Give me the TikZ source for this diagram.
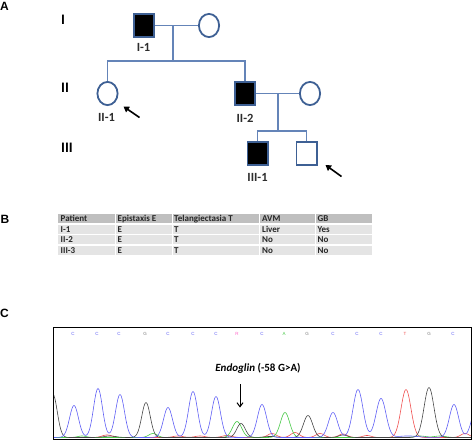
\documentclass[tikz,border=0pt]{standalone}
\usepackage{fontspec}
\setmainfont{Carlito}
\newfontfamily\arialf{Liberation Sans}
\usetikzlibrary{shapes.geometric,arrows.meta}
\definecolor{pedline}{RGB}{100,132,184}
\definecolor{pededge}{RGB}{62,96,148}
\definecolor{hdrgray}{RGB}{191,191,191}
\definecolor{rowgray}{RGB}{228,228,228}
\definecolor{tblue}{RGB}{95,95,245}
\definecolor{tblack}{RGB}{70,70,70}
\definecolor{tgreen}{RGB}{70,200,70}
\definecolor{tred}{RGB}{240,80,80}
\definecolor{tpink}{RGB}{255,100,200}
\definecolor{tgray}{RGB}{120,120,120}
\definecolor{labgray}{RGB}{45,45,45}
\begin{document}
\begin{tikzpicture}[x=1pt,y=-1pt,
  declare function={g(\gx,\gc,\gh,\gs)=\gh*exp(-min(((\gx-\gc)/\gs)*((\gx-\gc)/\gs),9));},
  male/.style={rectangle,draw=pededge,line width=1.8pt,minimum width=20.2pt,minimum height=23.2pt,inner sep=0pt},
  female/.style={ellipse,draw=pededge,line width=1.8pt,minimum width=20.2pt,minimum height=23.2pt,inner sep=0pt},
  affected/.style={fill=black},
  pedconn/.style={draw=pedline,line width=1.2pt},
  pedlabel/.style={font=\fontsize{12.5}{13}\selectfont\bfseries,text=labgray,inner sep=0pt},
  genlabel/.style={font=\fontsize{14.5}{15}\selectfont\bfseries,text=black,inner sep=0pt},
  panel/.style={font=\arialf\bfseries\fontsize{12}{12}\selectfont,inner sep=0pt,anchor=west},
  probandarrow/.style={-{Triangle[length=5.5pt,width=6.5pt]},line width=1.6pt,black},
  celltext/.style={font=\fontsize{9}{9}\selectfont\bfseries,text=black!85,inner sep=0pt,anchor=west},
  baselet/.style={font=\arialf\fontsize{4.5}{4.5}\selectfont,inner sep=0pt},
  trace/.style={line width=0.6pt},
]
\useasboundingbox (0,0) rectangle (473,442);

% ---------- Panel letters ----------
\node[panel] (pA) at (0,6.5) {A};
\node[panel] (pB) at (0.5,219) {B};
\node[panel] (pC) at (0,313) {C};

% ---------- Generation labels ----------
\node[genlabel] (gI) at (63,20) {I};
\node[genlabel] (gII) at (65,87.5) {II};
\node[genlabel] (gIII) at (67,147.5) {III};

% ---------- Pedigree ----------
\node[male,affected] (I1) at (144,25.5) {};
\node[female] (I2) at (209,25.5) {};
\node[female] (II1) at (107.5,93.5) {};
\node[male,affected] (II2) at (245,93.5) {};
\node[female] (II3) at (310,93.5) {};
\node[male,affected] (III1) at (257.5,153.5) {};
\node[male] (III2) at (306.5,153.5) {};

\coordinate (m1) at (173,25.5);
\coordinate (s1) at (173,61);
\coordinate (s1l) at (107.5,61);
\coordinate (s1r) at (245,61);
\coordinate (m2) at (278,93.5);
\coordinate (s2) at (278,131);
\coordinate (s2l) at (257.5,131);
\coordinate (s2r) at (306.5,131);

\draw[pedconn] (I1.east) -- (I2.west);
\draw[pedconn] (m1) -- (s1);
\draw[pedconn] (II1.north) -- (s1l) -- (s1r) -- (II2.north);
\draw[pedconn] (II2.east) -- (II3.west);
\draw[pedconn] (m2) -- (s2);
\draw[pedconn] (III1.north) -- (s2l) -- (s2r) -- (III2.north);

\node[pedlabel] (lI1) at (143.5,47) {I-1};
\node[pedlabel] (lII1) at (106.5,117) {II-1};
\node[pedlabel] (lII2) at (245,118) {II-2};
\node[pedlabel] (lIII1) at (257.5,177) {III-1};

\coordinate (a1t) at (139.5,117.5);
\coordinate (a1h) at (123.5,106.5);
\coordinate (a2t) at (341.5,176.5);
\coordinate (a2h) at (325.5,165);
\draw[probandarrow] (a1t) -- (a1h);
\draw[probandarrow] (a2t) -- (a2h);

% ---------- Table ----------
\foreach \ya/\yb [count=\r] in {213.5/223.5, 224/234, 234.5/244.5, 245/255}{
  \foreach \xa/\xb in {57/115, 115/172, 172/259, 259/315, 315/372}{
    \ifnum\r=1
      \fill[hdrgray] (\xa+0.5,\ya+0.5) rectangle (\xb-0.5,\yb-0.5);
    \else
      \fill[rowgray] (\xa+0.5,\ya+0.5) rectangle (\xb-0.5,\yb-0.5);
    \fi
  }
}
\foreach \txt/\xx [count=\i] in {Patient/60.5, Epistaxis E/117.5, Telangiectasia T/174, AVM/262, GB/317.5}
  \node[celltext] (h\i) at (\xx,218.7) {\txt};
\foreach \txt/\xx [count=\i] in {I-1/60.5, E/117.5, T/174, Liver/262, Yes/317.5}
  \node[celltext] (ra\i) at (\xx,229.2) {\txt};
\foreach \txt/\xx [count=\i] in {II-2/60.5, E/117.5, T/174, No/262, No/317.5}
  \node[celltext] (rb\i) at (\xx,239.7) {\txt};
\foreach \txt/\xx [count=\i] in {III-3/60.5, E/117.5, T/174, No/262, No/317.5}
  \node[celltext] (rc\i) at (\xx,250.2) {\txt};

% ---------- Chromatogram ----------
\begin{scope}
\clip (53.5,327.5) rectangle (471,439);
\draw[trace,tred] plot[domain=53:472,samples=420] (\x,{437.5-(g(\x,406,48,7)+g(\x,107,2.5,7)+g(\x,178,1.5,7)+g(\x,200,1.5,7)+g(\x,227,2,7)+g(\x,272,4,6)+g(\x,295,5,6)+g(\x,320,4,6)+g(\x,343,3.5,6)+g(\x,367,2,6)+g(\x,465,4,6))});
\draw[trace,tgreen] plot[domain=53:472,samples=420] (\x,{437.5-(g(\x,237,16,6.5)+g(\x,285,25,6.5)+g(\x,153,4,6)+g(\x,82,1.5,6)+g(\x,420,1.5,8)+g(\x,440,1.5,8))});
\draw[trace,tblack] plot[domain=53:472,samples=420] (\x,{437.5-(g(\x,53,43,6)+g(\x,146,35,6)+g(\x,241,14,6)+g(\x,308,22,6.5)+g(\x,429,50,7)+g(\x,343,2.5,6)+g(\x,110,1.5,8)+g(\x,270,1,8))});
\draw[trace,tblue] plot[domain=53:472,samples=420] (\x,{437.5-(g(\x,74,32,6.3)+g(\x,98,49,6.3)+g(\x,120,43,6.3)+g(\x,168,30,6.3)+g(\x,193,46,6.3)+g(\x,216,41,6.3)+g(\x,262,33,6.5)+g(\x,333,25,6.5)+g(\x,358,48,7)+g(\x,381,39,7)+g(\x,454,33,6.5)+g(\x,476,28,6.5)+g(\x,408,1.5,14))});
\end{scope}
\draw[line width=0.9pt] (53.5,327.5) rectangle (471.3,439.3);

\foreach \bx/\bl/\bc [count=\i] in {73/C/tblue, 97/C/tblue, 119/C/tblue, 145/G/tgray, 168/C/tblue, 193/C/tblue, 216/C/tblue, 237/R/tpink, 262/C/tblue, 284/A/tgreen, 307/G/tgray, 333/C/tblue, 357/C/tblue, 381/C/tblue, 405/T/tred, 429/G/tgray, 453/C/tblue}
  \node[baselet,text=\bc] (b\i) at (\bx,333.5) {\bl};

\node[font=\fontsize{11}{11}\selectfont\bfseries,inner sep=0pt] (mut) at (258,368) {\textit{Endoglin} (-58 G>A)};
\coordinate (mt) at (240,384);
\coordinate (mh) at (240,407.5);
\draw[-{Straight Barb[length=4pt,width=6pt]},line width=1pt] (mt) -- (mh);
\end{tikzpicture}
\end{document}
